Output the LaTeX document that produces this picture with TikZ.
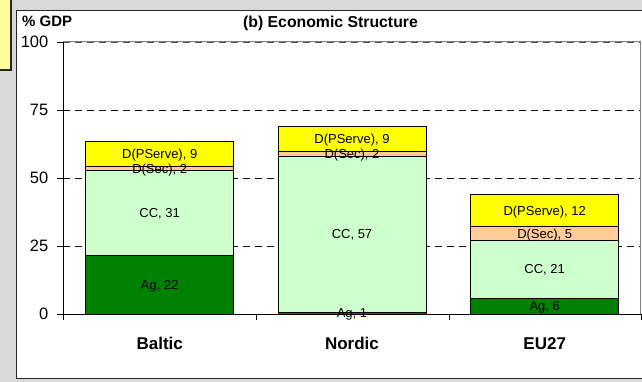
\documentclass[tikz,border=0pt]{standalone}
\usepackage{fontspec}
\setmainfont{Liberation Sans}
\definecolor{pagegray}{RGB}{217,217,217}
\definecolor{noteyellow}{RGB}{255,255,153}
\definecolor{agcol}{RGB}{0,128,0}
\definecolor{cccol}{RGB}{204,255,204}
\definecolor{seccol}{RGB}{255,204,153}
\definecolor{pservecol}{RGB}{255,255,0}
\definecolor{framegray}{RGB}{128,128,128}
\begin{document}
\begin{tikzpicture}[x=1pt,y=1pt,
  seg/.style={draw=black,line width=0.9pt},
  seglabel/.style={font=\fontsize{13}{15}\selectfont,inner sep=0pt,anchor=base,yshift=-4.65pt},
  ticklabel/.style={font=\fontsize{16.5}{18}\selectfont,inner sep=0pt,anchor=base east,yshift=-5.9pt},
  catlabel/.style={font=\bfseries\fontsize{17}{19}\selectfont,inner sep=0pt,anchor=base},
  gridline/.style={draw=black,line width=0.8pt,dash pattern=on 7pt off 5pt},
  axisline/.style={draw=black,line width=0.9pt}]
\fill[pagegray] (0,0) rectangle (642,382);
\useasboundingbox (0,0) rectangle (642,382);
% small note box at the left edge
\draw[fill=noteyellow,draw=black!85,line width=1.3pt] (-3,312) rectangle (11,385);
% chart area
\draw[fill=white,draw=black!85,line width=1pt] (16,3.7) rectangle (646,371);
\node[font=\bfseries\fontsize{15}{17}\selectfont,inner sep=0pt,anchor=base west] (ylab) at (22,355.5) {\% GDP};
\node[font=\bfseries\fontsize{15.8}{18}\selectfont,inner sep=0pt,anchor=base] (title) at (330.5,354.5) {(b) Economic Structure};
% plot area: values 0..100
\begin{scope}[yshift=68pt,y=2.72pt]
  \draw[framegray,line width=1pt] (63,100) -- (640,100) -- (640,0);
  \draw[black!70,line width=0.8pt,dash pattern=on 7pt off 5pt] (63,100) -- (640,100);
  \foreach \v in {25,50,75} \draw[gridline] (63,\v) -- (640,\v);
  % stacked bars
  \foreach \xl/\n/\a/\b/\c/\d/\va/\vb/\vc/\vd in {
      85.7/baltic/21.7/52.6/54.4/63.3/22/31/2/9,
      278/nordic/0.6/58.0/59.7/68.9/1/57/2/9,
      470.7/eu/5.8/27.1/32.1/44.0/6/21/5/12} {
    \draw[seg,fill=agcol] (\xl,0) rectangle ({\xl+148},\a);
    \draw[seg,fill=cccol] (\xl,\a) rectangle ({\xl+148},\b);
    \draw[seg,fill=seccol] (\xl,\b) rectangle ({\xl+148},\c);
    \draw[seg,fill=pservecol] (\xl,\c) rectangle ({\xl+148},\d);
    \node[seglabel] (\n-ag) at ({\xl+74},{\a/2}) {Ag, \va};
    \node[seglabel] (\n-cc) at ({\xl+74},{(\a+\b)/2}) {CC, \vb};
    \node[seglabel] (\n-sec) at ({\xl+74},{(\b+\c)/2}) {D(Sec), \vc};
    \node[seglabel] (\n-ps) at ({\xl+74},{(\c+\d)/2}) {D(PServe), \vd};
  }
  % axes and ticks
  \draw[axisline] (63,0) -- (63,100);
  \draw[axisline] (63,0) -- (641,0);
  \foreach \v in {0,25,50,75,100} {
    \draw[axisline] (57,\v) -- (63,\v);
    \node[ticklabel] (tick\v) at (48.5,\v) {\v};
  }
  \foreach \x in {63,256,449,641} \draw[axisline] (\x,0) -- (\x,-2.3);
\end{scope}
\node[catlabel] (cat-baltic) at (159.7,32) {Baltic};
\node[catlabel] (cat-nordic) at (352,32) {Nordic};
\node[catlabel] (cat-eu) at (544.7,32) {EU27};
\end{tikzpicture}
\end{document}
